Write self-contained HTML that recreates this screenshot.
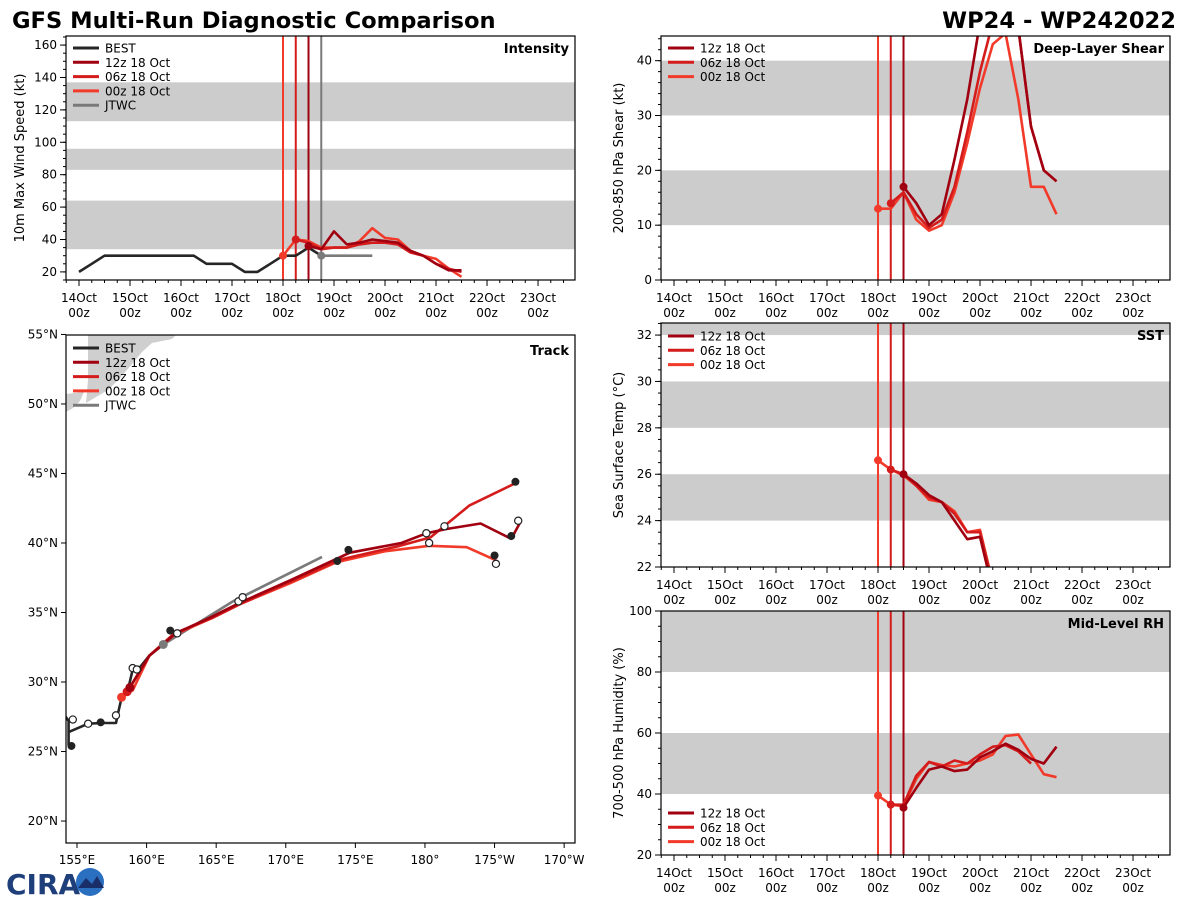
<!DOCTYPE html>
<html><head><meta charset="utf-8"><style>
body{margin:0;background:#fff;font-family:"Liberation Sans","DejaVu Sans",sans-serif}
svg text{font-family:"DejaVu Sans","Liberation Sans",sans-serif}
</style></head><body>
<svg id="fig" width="1200" height="900" viewBox="0 0 1200 900" xmlns="http://www.w3.org/2000/svg">
<rect width="1200" height="900" fill="#fff"/>
<text x="12" y="28" font-size="22.6" font-weight="bold" fill="#000">GFS Multi-Run Diagnostic Comparison</text>
<text x="1176" y="28" font-size="22.6" font-weight="bold" fill="#000" text-anchor="end">WP24 - WP242022</text>
<g>
<text x="6" y="894" font-size="28" font-weight="bold" fill="#1f3f7a" font-family="Liberation Sans">CIRA</text>
<circle cx="90" cy="882" r="14" fill="#2a6fc0"/>
<path d="M78 888 L86 878 L92 884 L97 876 L104 888 Z" fill="#1a2f6a"/>
</g>
</svg>
<script>
// ---------- data ----------
const intDays = [0,1,2,3,4,5,6,7,8,9];
const dayLabels = ["14Oct","15Oct","16Oct","17Oct","18Oct","19Oct","20Oct","21Oct","22Oct","23Oct"];
// intensity (kt), 6-hourly, start day offset from 14 Oct 00z
const bestIntStart = 0;
const bestInt = [20,25,30,30,30,30,30,30,30,30,25,25,25,20,20,25,30,30,35,30];
const jtwcIntStart = 4.75;
const jtwcInt = [30,30,30,30,30];
const run12Start = 4.5, run06Start = 4.25, run00Start = 4.0;
const int12 = [36,34,45,37,38,40,39,38,33,30,25,21,21];
const int06 = [40,38,34,35,35,37,38,38,37,32,30,25,22,20];
const int00 = [30,40,39,35,35,35,39,47,41,40,33,30,28,22,17];
// shear (kt)
const shr12 = [17,14,10,12,22,33,47,52,52,46,28,20,18];
const shr06 = [14,16,12,9.5,11,17,27,38,47,50,46,28,20,18];
const shr00 = [13,13,16,11,9,10,16,25,35,43,45,33,17,17,12];
// SST (C)
const sst12 = [26.0,25.6,25.1,24.8,24.0,23.2,23.3,21.0];
const sst06 = [26.2,26.0,25.5,25.0,24.8,24.3,23.5,23.5,21.3];
const sst00 = [26.6,26.2,25.95,25.5,24.9,24.8,24.4,23.5,23.6,21.3];
// RH (%)
const rh12 = [35.5,42,48,49,47.5,48,52,54,56.5,54.5,51.5,50,55.5];
const rh06 = [36.5,36.5,46,50.5,49,51,50,53,55.5,56,54,50];
const rh00 = [39.5,36.5,36,45,50.5,49.5,49,50,51,53,59,59.5,53,46.5,45.5];
// tracks [lon(E, 0-360), lat]
const bestLon = [153.9,154.4,154.4,154.4,155.8,156.8,157.8,157.9,158.2,158.7,159.0,159.4,160.2,161.2];
const bestLat = [27.9,27.2,25.5,26.4,27.0,27.05,27.05,27.55,28.85,29.6,30.9,30.9,31.9,32.7];
const trk00Lon = [158.2,159.0,160.2,162.0,164.7,166.7,170.3,173.6,177.1,180.3,183.0,185.0,185.3];
const trk00Lat = [28.9,29.4,31.9,33.4,34.6,35.6,37.1,38.6,39.4,39.8,39.7,38.8,38.6];
const trk06Lon = [158.6,160.2,162.0,164.7,166.7,170.3,173.9,178.2,180.4,183.2,186.5];
const trk06Lat = [29.3,31.9,33.5,34.6,35.6,37.2,38.8,39.8,40.4,42.7,44.3];
const trk12Lon = [158.8,160.2,162.1,164.7,166.7,170.3,174.6,178.3,180.1,181.5,184.0,186.2,186.8];
const trk12Lat = [29.6,31.9,33.5,34.7,35.7,37.3,39.3,40.0,40.7,41.0,41.4,40.3,41.4];
const jtwcLon = [161.2,166.2,172.6];
const jtwcLat = [32.7,35.8,39.0];
const dotLon = [154.6,156.7,161.7,174.5,173.7,186.2,185.0,186.5];
const dotLat = [25.4,27.1,33.7,39.5,38.7,40.5,39.1,44.4];
const openLon = [154.7,155.8,157.8,159.0,159.3,166.6,166.9,180.1,181.4,180.3,185.1,186.7,162.2];
const openLat = [27.3,27.0,27.6,31.0,30.9,35.8,36.1,40.7,41.2,40.0,38.5,41.6,33.5];
const lonTicks = [155,160,165,170,175,180,185,190];
const lonTickLabels = ["155°E","160°E","165°E","170°E","175°E","180°","175°W","170°W"];
const latTicks = [20,25,30,35,40,45,50,55];

// ---------- drawing ----------
const svg = document.getElementById('fig');
const NS = 'http://www.w3.org/2000/svg';
const C = {best:'#262626', r12:'#a0000f', r06:'#d41c1c', r00:'#f23a2a', jtwc:'#7a7a7a', band:'#cccccc'};
function mk(tag, attrs, parent){const e=document.createElementNS(NS,tag);for(const k in attrs)e.setAttribute(k,attrs[k]);(parent||svg).appendChild(e);return e;}
function scale(d0,d1,r0,r1){return v=>r0+(v-d0)*(r1-r0)/(d1-d0);}

function timePanel(o){
  const g = mk('g',{});
  
  
  const X = scale(o.xlim[0],o.xlim[1],o.x0,o.x1), Y = scale(o.ylim[0],o.ylim[1],o.y1,o.y0);
  o.bands.forEach(b=>{
    const r = mk('rect',{x:o.x0,y:Y(Math.min(b[1],o.ylim[1])),width:o.x1-o.x0,height:Y(b[0])-Y(Math.min(b[1],o.ylim[1])),fill:C.band},g);
    
    
  });
  o.vlines.forEach(v=>{
    const l = mk('line',{x1:X(v[0]),x2:X(v[0]),y1:o.y0,y2:o.y1,stroke:v[1],'stroke-width':2},g);
    
    
  });
  const clipId='clip'+o.name;
  const cp=mk('clipPath',{id:clipId},g); mk('rect',{x:o.x0,y:o.y0,width:o.x1-o.x0,height:o.y1-o.y0},cp);
  o.series.forEach(s=>{
    const pts = s.vals.map((v,i)=>X(s.start+i*0.25).toFixed(1)+','+Y(v).toFixed(1)).join(' ');
    const p = mk('polyline',{points:pts,fill:'none',stroke:s.color,'stroke-width':2.6,'stroke-linejoin':'round','clip-path':'url(#'+clipId+')'},g);
    
    
    if(s.dot){const c=mk('circle',{cx:X(s.start),cy:Y(s.vals[0]),r:4,fill:s.color},g);
      
      }
  });
  const f = mk('rect',{x:o.x0,y:o.y0,width:o.x1-o.x0,height:o.y1-o.y0,fill:'none',stroke:'#000','stroke-width':1.2},g);
  
  
  for(let t=Math.ceil(o.xlim[0]*4)/4;t<=o.xlim[1];t+=0.25){
    const major=Math.abs(t-Math.round(t))<1e-6;
    mk('line',{x1:X(t),x2:X(t),y1:o.y1,y2:o.y1+(major?6:3),stroke:'#000','stroke-width':1},g);
  }
  intDays.forEach((d,i)=>{
    const t1=mk('text',{x:X(d),y:o.y1+22,'font-size':12,'text-anchor':'middle'},g); t1.textContent=dayLabels[i];
    
    
    const t2=mk('text',{x:X(d),y:o.y1+37,'font-size':12,'text-anchor':'middle'},g); t2.textContent='00z';
    
    
  });
  for(let v=Math.ceil(o.ylim[0]/o.minor)*o.minor;v<=o.ylim[1]+1e-6;v+=o.minor){
    mk('line',{x1:o.x0-3,x2:o.x0,y1:Y(v),y2:Y(v),stroke:'#000'},g);
  }
  o.yticks.forEach(v=>{
    mk('line',{x1:o.x0-6,x2:o.x0,y1:Y(v),y2:Y(v),stroke:'#000'},g);
    const t=mk('text',{x:o.x0-9,y:Y(v)+4,'font-size':12,'text-anchor':'end'},g); t.textContent=v;
    
    
  });
  const yt=mk('text',{x:0,y:0,'font-size':13,'text-anchor':'middle',transform:`translate(${o.ylabX},${(o.y0+o.y1)/2}) rotate(-90)`},g);
  yt.textContent=o.ylabel;
  
  
  const tt=mk('text',{x:o.x1-6,y:o.y0+17,'font-size':13,'font-weight':'bold','text-anchor':'end'},g);
  tt.textContent=o.title;
  
  
  legend(g,o.x0,o.legendY,o.legend);
}
function legend(g,x0,y,items){
  items.forEach((it,i)=>{
    const yy=y+i*14.3;
    const l=mk('line',{x1:x0+7,x2:x0+33,y1:yy,y2:yy,stroke:it[1],'stroke-width':3},g);
    
    
    const t=mk('text',{x:x0+39,y:yy+4.5,'font-size':12},g); t.textContent=it[0];
    
    
  });
}
const runLeg=[["12z 18 Oct",C.r12],["06z 18 Oct",C.r06],["00z 18 Oct",C.r00]];
const fullLeg=[["BEST",C.best],["12z 18 Oct",C.r12],["06z 18 Oct",C.r06],["00z 18 Oct",C.r00],["JTWC",C.jtwc]];
const xl=[-0.255,9.725];
const vl=[[4.0,C.r00],[4.25,C.r06],[4.5,C.r12]];

timePanel({name:'intensity-panel',x0:66,x1:575,y0:36,y1:280,xlim:xl,ylim:[15,165.6],
  bands:[[34,64],[83,96],[113,137]],vlines:vl.concat([[4.75,C.jtwc]]),minor:5,yticks:[20,40,60,80,100,120,140,160],
  ylabel:'10m Max Wind Speed (kt)',ylabX:24,title:'Intensity',legendY:48,legend:fullLeg,
  series:[{name:'best-intensity-line',vals:bestInt,start:bestIntStart,color:C.best},
    {name:'jtwc-intensity-line',vals:jtwcInt,start:jtwcIntStart,color:C.jtwc,dot:true},
    {name:'run00-intensity-line',vals:int00,start:run00Start,color:C.r00,dot:true},
    {name:'run06-intensity-line',vals:int06,start:run06Start,color:C.r06,dot:true},
    {name:'run12-intensity-line',vals:int12,start:run12Start,color:C.r12,dot:true}]});
timePanel({name:'shear-panel',x0:661,x1:1170,y0:36,y1:280,xlim:xl,ylim:[0,44.5],
  bands:[[10,20],[30,40]],vlines:vl,minor:2,yticks:[0,10,20,30,40],
  ylabel:'200-850 hPa Shear (kt)',ylabX:623,title:'Deep-Layer Shear',legendY:48,legend:runLeg,
  series:[{name:'run00-shear-line',vals:shr00,start:run00Start,color:C.r00,dot:true},
    {name:'run06-shear-line',vals:shr06,start:run06Start,color:C.r06,dot:true},
    {name:'run12-shear-line',vals:shr12,start:run12Start,color:C.r12,dot:true}]});
timePanel({name:'sst-panel',x0:661,x1:1170,y0:323,y1:567,xlim:xl,ylim:[22,32.52],
  bands:[[24,26],[28,30],[32,33]],vlines:vl,minor:0.5,yticks:[22,24,26,28,30,32],
  ylabel:'Sea Surface Temp (°C)',ylabX:623,title:'SST',legendY:336,legend:runLeg,
  series:[{name:'run00-sst-line',vals:sst00,start:run00Start,color:C.r00,dot:true},
    {name:'run06-sst-line',vals:sst06,start:run06Start,color:C.r06,dot:true},
    {name:'run12-sst-line',vals:sst12,start:run12Start,color:C.r12,dot:true}]});
timePanel({name:'rh-panel',x0:661,x1:1170,y0:611,y1:855,xlim:xl,ylim:[20,100],
  bands:[[40,60],[80,100]],vlines:vl,minor:5,yticks:[20,40,60,80,100],
  ylabel:'700-500 hPa Humidity (%)',ylabX:623,title:'Mid-Level RH',legendY:813,legend:runLeg,
  series:[{name:'run00-rh-line',vals:rh00,start:run00Start,color:C.r00,dot:true},
    {name:'run06-rh-line',vals:rh06,start:run06Start,color:C.r06,dot:true},
    {name:'run12-rh-line',vals:rh12,start:run12Start,color:C.r12,dot:true}]});

// track panel
(function(){
  const o={x0:66,x1:575,y0:335,y1:843};
  const X=scale(154.21,190.78,o.x0,o.x1), Y=scale(18.42,54.96,o.y1,o.y0);
  const g=mk('g',{});
  
  
  const cp=mk('clipPath',{id:'trkclip'},g); mk('rect',{x:o.x0,y:o.y0,width:o.x1-o.x0,height:o.y1-o.y0},cp);
  const land=mk('g',{'clip-path':'url(#trkclip)',fill:'#cfcfcf'},g);
  
  
  mk('polygon',{points:'88,335 176,335 172,339 152,343 142,352 132,364 120,378 108,390 96,397 86,403 88,380'},land);
  mk('polygon',{points:'66,394 84,392 80,401 73,408 66,412'},land);
  function line(lon,lat,color,name){
    const pts=lon.map((v,i)=>X(v).toFixed(1)+','+Y(lat[i]).toFixed(1)).join(' ');
    const p=mk('polyline',{points:pts,fill:'none',stroke:color,'stroke-width':2.6,'stroke-linejoin':'round','clip-path':'url(#trkclip)'},g);
    
    
  }
  line(bestLon,bestLat,C.best,'best-track-line');
  line(jtwcLon,jtwcLat,C.jtwc,'jtwc-track-line');
  line(trk00Lon,trk00Lat,C.r00,'run00-track-line');
  line(trk06Lon,trk06Lat,C.r06,'run06-track-line');
  line(trk12Lon,trk12Lat,C.r12,'run12-track-line');
  [[trk00Lon,trk00Lat,C.r00],[trk06Lon,trk06Lat,C.r06],[trk12Lon,trk12Lat,C.r12],[jtwcLon,jtwcLat,C.jtwc]].forEach(s=>{
    const c=mk('circle',{cx:X(s[0][0]),cy:Y(s[1][0]),r:4.5,fill:s[2]},g);
    
    
  });
  dotLon.forEach((v,i)=>{const c=mk('circle',{cx:X(v),cy:Y(dotLat[i]),r:4,fill:'#222'},g);
    
    });
  openLon.forEach((v,i)=>{const c=mk('circle',{cx:X(v),cy:Y(openLat[i]),r:3.6,fill:'#fff',stroke:'#222','stroke-width':1.2},g);
    
    });
  mk('rect',{x:o.x0,y:o.y0,width:o.x1-o.x0,height:o.y1-o.y0,fill:'none',stroke:'#000','stroke-width':1.2},g);
  lonTicks.forEach((v,i)=>{
    mk('line',{x1:X(v),x2:X(v),y1:o.y1,y2:o.y1+5,stroke:'#000'},g);
    const t=mk('text',{x:X(v),y:o.y1+21,'font-size':12,'text-anchor':'middle'},g); t.textContent=lonTickLabels[i];
    
    
  });
  latTicks.forEach(v=>{
    mk('line',{x1:o.x0-5,x2:o.x0,y1:Y(v),y2:Y(v),stroke:'#000'},g);
    const t=mk('text',{x:o.x0-8,y:Y(v)+4,'font-size':12,'text-anchor':'end'},g); t.textContent=v+'°N';
    
    
  });
  const tt=mk('text',{x:o.x1-6,y:o.y0+20,'font-size':13,'font-weight':'bold','text-anchor':'end'},g); tt.textContent='Track';
  
  
  legend(g,o.x0,348,fullLeg);
})();
</script>
</body></html>
